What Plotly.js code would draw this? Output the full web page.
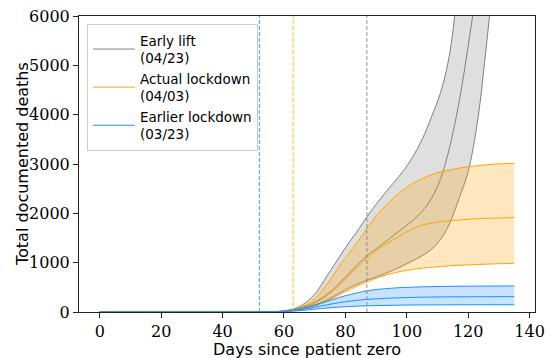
<!DOCTYPE html>
<html><head><meta charset="utf-8">
<script src="https://cdn.plot.ly/plotly-3.0.1.min.js"></script>
<style>html,body{margin:0;padding:0;background:#fff}#chart{width:552px;height:358px}</style>
</head><body><div id="chart"></div>
<script>
const days = [0,10,20,30,40,50,55,58,60,62,64,66,68,70,72,74,76,78,80,82,84,87,90,93,96,99,102,105,108,111,114,117,120,123,126,129,132,135];

const liftUpper = [0,0,0,0,0,0,3,12,25,45,85,145,240,360,530,730,920,1110,1300,1480,1650,1930,2180,2420,2640,2870,3150,3500,3950,4450,5250,6900,9000,11500,14500,18000,22000,27000];
const liftMid   = [0,0,0,0,0,0,2,8,18,35,60,95,140,200,270,360,460,580,700,830,960,1140,1280,1420,1570,1710,1860,2040,2300,2700,3350,4250,5400,6700,8400,10500,13000,16000];
const liftLower = [0,0,0,0,0,0,1,5,12,25,42,65,95,135,185,245,310,380,450,510,570,645,710,780,860,945,1040,1140,1270,1470,1800,2300,2850,3850,5450,7300,9500,12000];

const actualUpper = [0,0,0,0,0,0,2,10,22,40,70,115,180,270,400,560,740,930,1100,1260,1420,1690,1940,2150,2330,2480,2610,2700,2780,2840,2880,2915,2945,2965,2985,3000,3008,3014];
const actualMid   = [0,0,0,0,0,0,1,7,15,30,50,80,120,175,245,330,430,540,660,790,910,1090,1240,1370,1480,1590,1690,1760,1800,1830,1850,1865,1880,1890,1898,1905,1909,1912];
const actualLower = [0,0,0,0,0,0,1,5,11,22,38,58,85,120,165,220,285,350,410,470,530,605,685,745,795,835,865,888,907,922,935,946,955,963,970,977,982,987];

const earlierUpper = [0,0,0,0,0,0,2,10,20,35,55,80,110,145,180,215,255,295,330,360,390,428,455,472,487,497,504,510,514,518,520,522,524,525,526,527,527,527];
const earlierMid   = [0,0,0,0,0,0,1,6,12,22,35,52,72,95,120,145,168,190,208,224,238,255,267,277,285,291,296,300,303,305,307,308,309,310,310,311,311,311];
const earlierLower = [0,0,0,0,0,0,1,4,8,14,22,32,44,58,70,81,91,100,107,113,119,125,130,134,137,140,142,143,144,145,146,147,147,148,148,148,148,148];

const scenarioNames = ['Early lift<br>(04/23)', 'Actual lockdown<br>(04/03)', 'Earlier lockdown<br>(03/23)'];
const interventionDays = [52, 63, 87];

const xTicks = [0,20,40,60,80,100,120,140];
const yTicks = [0,1000,2000,3000,4000,5000,6000];
const xTitle = 'Days since patient zero';
const yTitle = 'Total documented deaths';

const scenarios = [
  {name: scenarioNames[0], lo: liftLower, mid: liftMid, hi: liftUpper, line: '#808080', fill: 'rgba(128,128,128,0.25)'},
  {name: scenarioNames[1], lo: actualLower, mid: actualMid, hi: actualUpper, line: '#ffa500', fill: 'rgba(255,165,0,0.25)'},
  {name: scenarioNames[2], lo: earlierLower, mid: earlierMid, hi: earlierUpper, line: '#1e90ff', fill: 'rgba(30,144,255,0.25)'}
];
const vlineColors = ['rgba(30,144,255,0.85)', 'rgba(255,165,0,0.8)', 'rgba(128,128,128,0.85)'];

const traces = [];
scenarios.forEach(s => {
  const ln = {color: s.line, width: 1, shape: 'spline', smoothing: 1};
  traces.push({x: days, y: s.lo, mode: 'lines', line: ln, showlegend: false, hoverinfo: 'skip'});
  traces.push({x: days, y: s.hi, mode: 'lines', line: ln, fill: 'tonexty', fillcolor: s.fill, showlegend: false, hoverinfo: 'skip'});
  traces.push({x: days, y: s.mid, mode: 'lines', line: ln, name: s.name, showlegend: true});
});

const shapes = interventionDays.map((d, i) => ({
  type: 'line', xref: 'x', yref: 'paper', x0: d, x1: d, y0: 0, y1: 1,
  line: {color: vlineColors[i], width: 1, dash: '4px,2px'}, layer: 'above'
}));

const tickFont = {family: 'DejaVu Serif, serif', size: 16, color: '#000'};
const titleFont = {family: 'DejaVu Sans, sans-serif', size: 16, color: '#000'};

const layout = {
  width: 552, height: 358,
  margin: {l: 79, r: 17, t: 16, b: 46},
  paper_bgcolor: '#fff', plot_bgcolor: '#fff',
  showlegend: true,
  legend: {
    x: 0.0175, y: 0.973, xanchor: 'left', yanchor: 'top',
    bgcolor: 'rgba(255,255,255,0.85)', bordercolor: '#cccccc', borderwidth: 1,
    font: {family: 'DejaVu Sans, sans-serif', size: 13.5, color: '#000'},
    traceorder: 'normal', itemwidth: 42
  },
  xaxis: {
    range: [-6.75, 141.75], tickvals: xTicks, ticktext: xTicks.map(String),
    showgrid: false, zeroline: false, showline: true, mirror: true,
    linecolor: '#222', linewidth: 1, ticks: 'outside', ticklen: 5, tickcolor: '#222',
    tickfont: tickFont
  },
  yaxis: {
    range: [0, 6000], tickvals: yTicks, ticktext: yTicks.map(String),
    showgrid: false, zeroline: false, showline: true, mirror: true,
    linecolor: '#222', linewidth: 1, ticks: 'outside', ticklen: 5, tickcolor: '#222',
    tickfont: tickFont
  },
  annotations: [
    {text: xTitle, xref: 'paper', yref: 'paper', x: 0.5, y: -0.128, xanchor: 'center', yanchor: 'middle', showarrow: false, font: titleFont},
    {text: yTitle, xref: 'paper', yref: 'paper', x: -0.125, y: 0.5, xanchor: 'center', yanchor: 'middle', textangle: -90, showarrow: false, font: titleFont}
  ],
  shapes: shapes
};

Plotly.newPlot('chart', traces, layout, {displayModeBar: false, staticPlot: true});
</script>
</body></html>
